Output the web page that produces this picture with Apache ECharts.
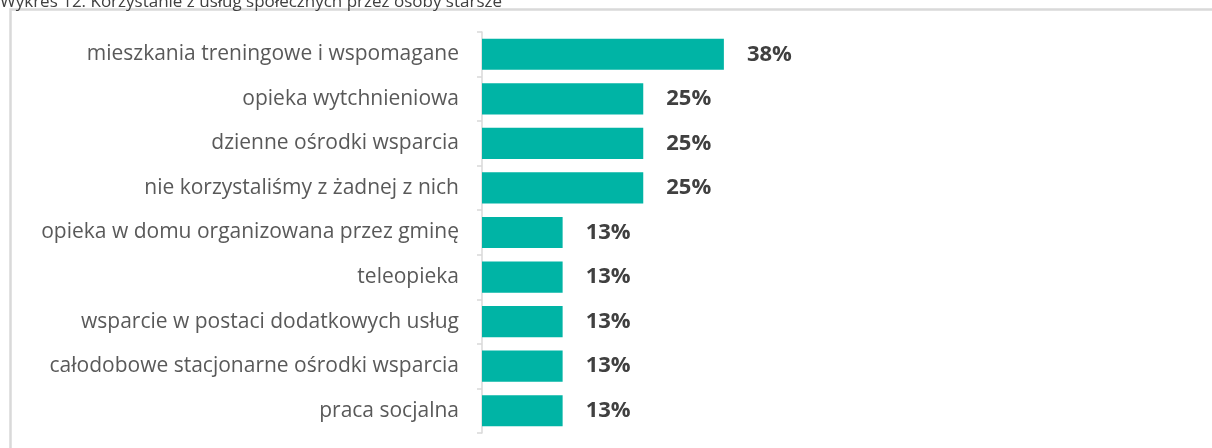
<!DOCTYPE html>
<html>
<head>
<meta charset="utf-8">
<script src="https://cdn.jsdelivr.net/npm/echarts@6/dist/echarts.min.js"></script>
<style>
html,body{margin:0;padding:0;background:#fff;}
#chart{width:1212px;height:448px;}
</style>
</head>
<body>
<div id="chart"></div>
<script>
const titleText = 'Wykres 12. Korzystanie z usług społecznych przez osoby starsze';
const categories = [
  'mieszkania treningowe i wspomagane',
  'opieka wytchnieniowa',
  'dzienne ośrodki wsparcia',
  'nie korzystaliśmy z żadnej z nich',
  'opieka w domu organizowana przez gminę',
  'teleopieka',
  'wsparcie w postaci dodatkowych usług',
  'całodobowe stacjonarne ośrodki wsparcia',
  'praca socjalna'
];
const values = [37.5, 25, 25, 25, 12.5, 12.5, 12.5, 12.5, 12.5];

const chart = echarts.init(document.getElementById('chart'), null, {renderer: 'canvas'});
const font = '"Open Sans", "Noto Sans", sans-serif';
chart.setOption({
  animation: false,
  graphic: [
    {type: 'rect', shape: {x: 10.5, y: 9.5, width: 1230, height: 460},
     style: {fill: 'none', stroke: '#d9d9d9', lineWidth: 2.5}, z: 0},
    {type: 'text', left: 0, top: -6,
     style: {text: titleText, font: '17px ' + font, fill: '#404040'}}
  ],
  grid: {left: 482, top: 32, bottom: 15, width: 322.5},
  xAxis: {type: 'value', min: 0, max: 50, show: false},
  yAxis: {
    type: 'category', data: categories, inverse: true,
    axisLine: {show: true, lineStyle: {color: '#d9d9d9', width: 1.5}},
    axisTick: {show: true, length: 5, lineStyle: {color: '#d9d9d9', width: 1.5}},
    axisLabel: {color: '#595959', fontSize: 21, fontFamily: font, margin: 23}
  },
  series: [{
    type: 'bar', data: values, barCategoryGap: '30%',
    itemStyle: {color: '#00b4a5'},
    label: {show: true, position: 'right', distance: 23,
      formatter: p => Math.round(p.value) + '%',
      color: '#404040', fontSize: 22, fontWeight: 'bold', fontFamily: font}
  }]
});
</script>
</body>
</html>
